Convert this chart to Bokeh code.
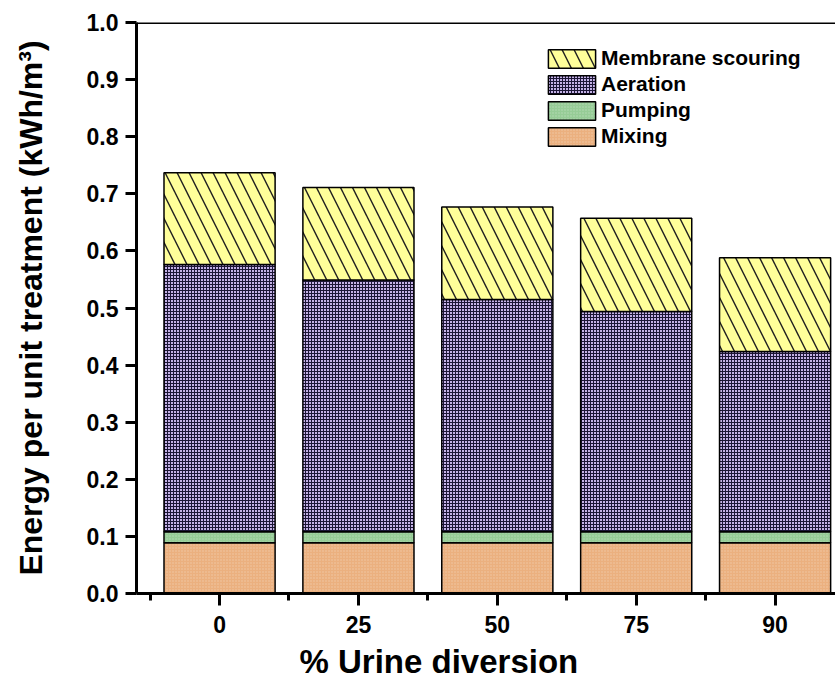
from bokeh.plotting import figure
from bokeh.models import (ColumnDataSource, FixedTicker, Legend, LegendItem,
                          Span, Title, Range1d, NumeralTickFormatter)
from bokeh.embed import file_html
from bokeh.resources import INLINE

# Energy demand per unit of treated water, split by process (kWh/m3)
diversion = ["0", "25", "50", "75", "90"]          # % urine diversion
mixing = [0.089, 0.089, 0.089, 0.089, 0.089]
pumping = [0.019, 0.019, 0.019, 0.019, 0.019]
aeration = [0.468, 0.441, 0.407, 0.386, 0.316]
membrane = [0.161, 0.162, 0.162, 0.163, 0.164]
y_ticks = [0.0, 0.1, 0.2, 0.3, 0.4, 0.5, 0.6, 0.7, 0.8, 0.9, 1.0]

positions = list(range(len(diversion)))
source = ColumnDataSource(dict(x=positions, mixing=mixing, pumping=pumping,
                               aeration=aeration, membrane=membrane))

FONT = "Liberation Sans"

p = figure(width=835, height=684, output_backend="svg", toolbar_location=None,
           x_range=Range1d(-0.598, 4.435), y_range=Range1d(0, 1.0),
           min_border_left=136, min_border_right=0, min_border_top=22,
           min_border_bottom=91)
p.outline_line_color = None
p.xgrid.grid_line_color = None
p.ygrid.grid_line_color = None
p.background_fill_color = "white"

stack = ["mixing", "pumping", "aeration", "membrane"]
bars = p.vbar_stack(
    stack, x="x", width=0.8, source=source,
    fill_color=["#ebb07f", "#96cc96", "#c4b2e6", "#ffff9a"],
    line_color="black", line_width=1.5,
    hatch_pattern=["dot", "dot", "+", "\\"],
    hatch_color=["white", "white", "#1c1636", "#1e1e1e"],
    hatch_alpha=[0.3, 0.3, 1.0, 1.0],
    hatch_scale=[3, 3, 3, 24],
    hatch_weight=[1, 1, 1, 1.4],
)

# top border of the plotting area
p.add_layout(Span(location=1.0, dimension="width", line_color="black", line_width=3))

# axes
for ax in (p.xaxis[0], p.yaxis[0]):
    ax.axis_line_width = 3
    ax.major_tick_line_width = 3
    ax.minor_tick_line_width = 3
    ax.major_tick_in = 0
    ax.minor_tick_in = 0
    ax.major_label_text_font = FONT
    ax.major_label_text_font_style = "bold"
    ax.major_label_text_font_size = "23px"
    ax.major_label_text_color = "black"
    ax.axis_label_text_font = FONT
    ax.axis_label_text_font_style = "bold"
    ax.axis_label_text_font_size = "32px"
    ax.axis_label_text_color = "black"

p.xaxis.ticker = FixedTicker(ticks=positions,
                             minor_ticks=[i - 0.5 for i in positions] + [positions[-1] + 0.5])
p.xaxis.major_label_overrides = {i: lab for i, lab in zip(positions, diversion)}
p.xaxis.major_tick_out = 12
p.xaxis.minor_tick_out = 7
p.xaxis.major_label_standoff = 10

p.yaxis.ticker = FixedTicker(ticks=y_ticks, minor_ticks=[])
p.yaxis.formatter = NumeralTickFormatter(format="0.0")
p.yaxis.major_tick_out = 11
p.yaxis.minor_tick_line_color = None
p.yaxis.major_label_standoff = 7
p.yaxis.axis_label = "Energy per unit treatment (kWh/m³)"
p.yaxis.axis_label_standoff = 35

# x-axis caption, set below the tick labels
p.add_layout(Title(text="% Urine diversion", align="left", offset=163,
                   text_font=FONT, text_font_style="bold",
                   text_font_size="33px", text_color="black",
                   standoff=10), "below")

names = ["Mixing", "Pumping", "Aeration", "Membrane scouring"]
items = [LegendItem(label=n, renderers=[r]) for n, r in zip(names, bars)][::-1]
legend = Legend(items=items, location=(406, 445),
                glyph_width=59, glyph_height=23, label_height=24,
                spacing=2, padding=0, margin=0, label_standoff=-4,
                label_text_font=FONT, label_text_font_style="bold",
                label_text_font_size="21px", label_text_color="black",
                border_line_color=None, background_fill_alpha=0)
p.add_layout(legend)

open("out.html", "w").write(file_html(p, INLINE))
